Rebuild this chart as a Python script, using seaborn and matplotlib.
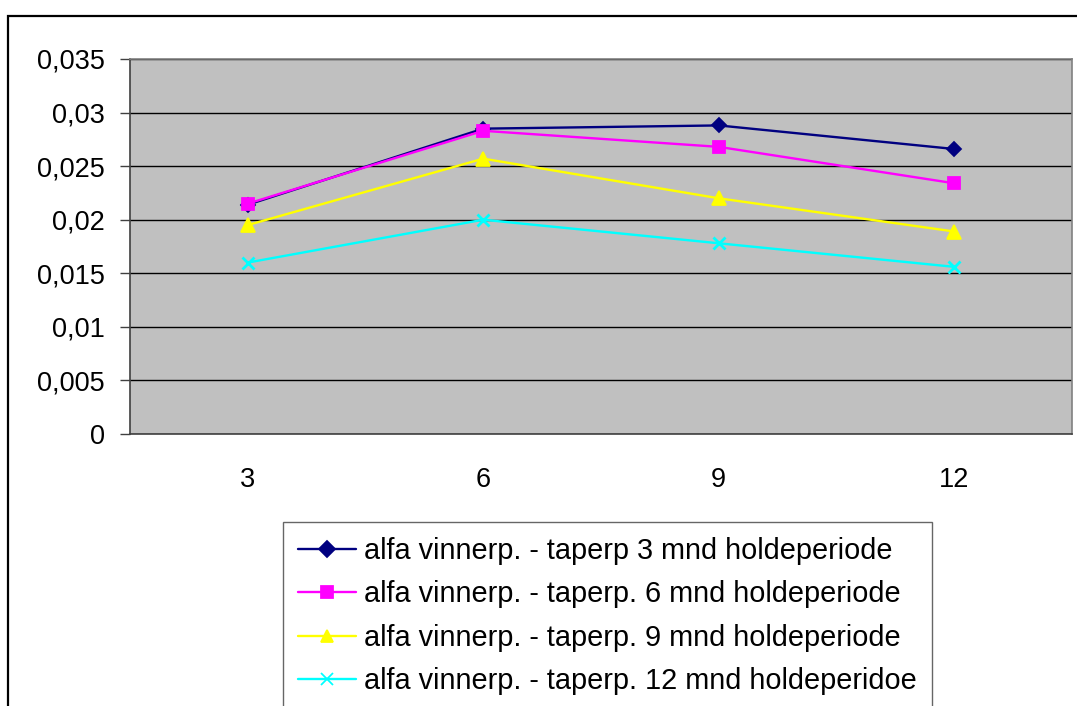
import matplotlib
matplotlib.use("Agg")
import matplotlib.pyplot as plt
import matplotlib.patches as mpatches
from matplotlib.ticker import FixedLocator, FuncFormatter
import seaborn as sns
import pandas as pd

# ---- data ----
periods = ["3", "6", "9", "12"]
series_names = [
    "alfa vinnerp. - taperp 3 mnd holdeperiode",
    "alfa vinnerp. - taperp. 6 mnd holdeperiode",
    "alfa vinnerp. - taperp. 9 mnd holdeperiode",
    "alfa vinnerp. - taperp. 12 mnd holdeperidoe",
]
alfa_3 = [0.0214, 0.0285, 0.0288, 0.0266]
alfa_6 = [0.0215, 0.0283, 0.0268, 0.0234]
alfa_9 = [0.0195, 0.0257, 0.0220, 0.0189]
alfa_12 = [0.0160, 0.0200, 0.0178, 0.0156]
y_ticks = [0, 0.005, 0.01, 0.015, 0.02, 0.025, 0.03, 0.035]

colors = ["#000080", "#FF00FF", "#FFFF00", "#00FFFF"]
markers = ["D", "s", "^", "x"]

rows = []
for name, vals in zip(series_names, [alfa_3, alfa_6, alfa_9, alfa_12]):
    for p, v in zip(periods, vals):
        rows.append({"period": p, "alfa": v, "series": name})
df = pd.DataFrame(rows)

sns.set_style("white")
plt.rcParams["font.family"] = ["Liberation Sans", "DejaVu Sans"]
plt.rcParams["text.color"] = "black"
plt.rcParams["xtick.color"] = "black"
plt.rcParams["ytick.color"] = "black"
plt.rcParams["xtick.labelcolor"] = "black"
plt.rcParams["ytick.labelcolor"] = "black"

FS = 19.5
LFS = 20.8

fig = plt.figure(figsize=(10.77, 7.06), dpi=100)
fig.patch.set_facecolor("white")
ax = fig.add_axes([130 / 1077, 1 - 434 / 706, (1072 - 130) / 1077, (434 - 59) / 706])
ax.set_facecolor("#C0C0C0")

sns.pointplot(
    data=df, x="period", y="alfa", hue="series",
    order=periods, hue_order=series_names,
    palette=colors, markers=markers, linestyles=["-"] * 4,
    dodge=False, errorbar=None, ax=ax,
    linewidth=1.7, markersize=8,
)

# marker tweaks
for line, m, c in zip(ax.lines, markers, colors):
    line.set_markeredgecolor(c)
    if m == "x":
        line.set_markeredgewidth(2.0)
        line.set_markersize(9)
    elif m == "D":
        line.set_markersize(7.5)
    elif m == "^":
        line.set_markersize(9.5)
    line.set_zorder(3)

ax.set_xlim(-0.5, len(periods) - 0.5)
ax.set_ylim(0, 0.035)
ax.yaxis.set_major_locator(FixedLocator(y_ticks))
ax.yaxis.set_major_formatter(FuncFormatter(lambda v, p: f"{v:g}".replace(".", ",")))
ax.grid(axis="y", color="black", linewidth=1.0, zorder=1)
ax.set_axisbelow(True)

ax.set_xticks(range(len(periods)))
ax.set_xticklabels(periods)
ax.set_xticks([i - 0.5 for i in range(len(periods) + 1)], minor=True)
ax.tick_params(axis="x", which="major", length=0, pad=24, labelsize=FS, labelcolor="black")
ax.tick_params(axis="x", which="minor", length=7, width=1, color="#404040", direction="out")
ax.tick_params(axis="y", which="major", length=7, width=1, color="#404040", pad=11,
               labelsize=FS, left=True, direction="out", labelcolor="black")
ax.set_xlabel("")
ax.set_ylabel("")

for side in ["top", "right"]:
    ax.spines[side].set_color("#808080")
    ax.spines[side].set_linewidth(1.2)
for side in ["left", "bottom"]:
    ax.spines[side].set_color("#404040")
    ax.spines[side].set_linewidth(1.2)

# legend
handles, labels = ax.get_legend_handles_labels()
if ax.get_legend() is not None:
    ax.get_legend().remove()
leg = fig.legend(
    handles, labels, loc="upper left",
    bbox_to_anchor=(283 / 1077, 1 - 522 / 706),
    frameon=True, fancybox=False, edgecolor="#404040",
    fontsize=LFS, labelspacing=0.53, handlelength=2.0, handletextpad=0.3,
    borderpad=0.52, borderaxespad=0,
)
leg.get_frame().set_linewidth(1.0)
for t in leg.get_texts():
    t.set_color("black")

# outer chart border (cropped)
fig.patches.append(mpatches.Rectangle(
    (8 / 1077, -0.2), 1.2, 1.2 - 16 / 706, transform=fig.transFigure,
    fill=False, edgecolor="black", linewidth=1.6, zorder=10))

fig.savefig("out.png", dpi=100)
